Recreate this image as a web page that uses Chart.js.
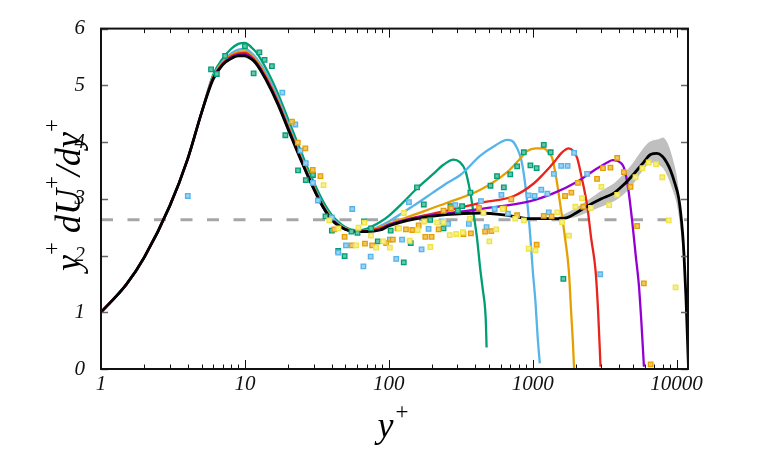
<!DOCTYPE html>
<html><head><meta charset="utf-8">
<script src="https://cdn.jsdelivr.net/npm/chart.js@4.4.1/dist/chart.umd.min.js"></script>
<style>html,body{margin:0;padding:0;background:#fff}#wrap{width:763px;height:456px}</style>
</head><body><div id="wrap"><canvas id="c" width="763" height="456"></canvas></div>
<script>
// ---------- data ----------
const xInner = [1, 1.5, 2, 3, 4, 5, 6, 7, 8, 9, 10, 11, 12, 14, 17, 20, 25, 30, 35, 40, 50, 60, 70];
const greenInY  = [1.00,1.49,1.97,2.87,3.70,4.52,5.18,5.47,5.64,5.73,5.75,5.68,5.58,5.30,4.85,4.40,3.78,3.30,2.95,2.72,2.50,2.44,2.47];
const blueInY   = [1.00,1.49,1.97,2.87,3.70,4.52,5.15,5.42,5.56,5.63,5.64,5.58,5.48,5.22,4.77,4.32,3.70,3.23,2.89,2.68,2.48,2.43,2.44];
const orangeInY = [1.00,1.49,1.97,2.87,3.70,4.52,5.14,5.40,5.53,5.59,5.60,5.54,5.44,5.17,4.72,4.28,3.67,3.21,2.87,2.66,2.47,2.43,2.43];
const redInY    = [1.00,1.49,1.97,2.87,3.70,4.52,5.13,5.38,5.51,5.56,5.57,5.51,5.41,5.14,4.70,4.26,3.65,3.20,2.86,2.65,2.46,2.42,2.43];
const purpleInY = [1.00,1.49,1.97,2.87,3.70,4.52,5.12,5.37,5.49,5.54,5.55,5.49,5.40,5.12,4.68,4.24,3.64,3.19,2.85,2.64,2.46,2.42,2.42];
const blackInY  = [1.00,1.49,1.97,2.87,3.70,4.52,5.10,5.36,5.47,5.52,5.52,5.47,5.38,5.10,4.66,4.22,3.63,3.18,2.85,2.63,2.46,2.42,2.42];

const greenOutX  = [87, 100, 125, 158, 200, 240, 282, 310, 340, 369, 390, 410, 433, 450, 467, 473, 478];
const greenOutY  = [2.59, 2.70, 2.93, 3.19, 3.42, 3.60, 3.69, 3.65, 3.50, 3.10, 2.70, 2.31, 1.74, 1.40, 1.06, 0.80, 0.38];
const blueOutX   = [87, 100, 149, 200, 254, 314, 433, 550, 664, 720, 780, 830, 867, 920, 964, 1000, 1046, 1080, 1120];
const blueOutY   = [2.52, 2.60, 2.88, 3.10, 3.28, 3.42, 3.76, 3.94, 4.04, 4.02, 3.89, 3.70, 3.44, 2.90, 2.31, 1.75, 1.17, 0.60, 0.10];
const orangeOutX = [87, 100, 150, 254, 433, 664, 800, 914, 1050, 1194, 1300, 1365, 1450, 1560, 1680, 1782, 1850, 1900, 1940];
const orangeOutY = [2.50, 2.56, 2.72, 2.93, 3.16, 3.47, 3.68, 3.84, 3.89, 3.89, 3.80, 3.72, 3.40, 2.87, 2.30, 1.74, 1.00, 0.50, 0.00];
const redOutX    = [87, 100, 150, 254, 433, 740, 1016, 1200, 1402, 1600, 1782, 1900, 2036, 2200, 2393, 2550, 2733, 2850, 2960];
const redOutY    = [2.48, 2.54, 2.67, 2.79, 2.93, 3.05, 3.27, 3.45, 3.64, 3.82, 3.89, 3.85, 3.72, 3.35, 2.87, 2.30, 1.74, 1.00, 0.04];
const purpleOutX = [87, 100, 149, 250, 433, 964, 1402, 2036, 2661, 3000, 3296, 3600, 3866, 4100, 4303, 4600, 4920, 5200, 5475, 5700, 5929];
const purpleOutY = [2.46, 2.54, 2.66, 2.74, 2.82, 2.96, 3.10, 3.30, 3.50, 3.58, 3.64, 3.68, 3.67, 3.63, 3.55, 3.20, 2.59, 2.00, 1.46, 0.80, 0.04];
const blackOutX  = [87, 100, 150, 250, 433, 700, 964, 1400, 1738, 2000, 2393, 3000, 3664, 4300, 5047, 5800, 6590, 7300, 7950, 8500, 9080, 9700, 10380, 11000, 11250, 11600, 11870, 12100];
const blackOutY  = [2.45, 2.52, 2.64, 2.72, 2.75, 2.70, 2.65, 2.65, 2.67, 2.75, 2.87, 3.00, 3.10, 3.25, 3.44, 3.62, 3.78, 3.80, 3.75, 3.65, 3.50, 3.28, 2.99, 2.40, 2.02, 1.30, 0.61, 0.00];

const bandX     = [1500, 2000, 2500, 3000, 3700, 4300, 5000, 5600, 6300, 6900, 7500, 8100, 8700, 9300, 10000, 10700, 11300, 11800];
const bandUpper = [2.68, 2.84, 3.00, 3.14, 3.28, 3.44, 3.64, 3.82, 3.98, 4.03, 4.05, 4.08, 3.97, 3.75, 3.42, 2.82, 2.12, 1.00];
const bandLower = [2.63, 2.68, 2.78, 2.86, 2.96, 3.08, 3.26, 3.44, 3.60, 3.63, 3.60, 3.53, 3.38, 3.18, 2.92, 2.42, 1.68, 0.50];

const refLevel = 2.63;
const xRange = [1, 12000];
const yRange = [0, 6];
const xTickLabels = [1, 10, 100, 1000, 10000];

const greenPtsX = [5.82,6.38,7.29,10.0,11.5,12.6,13.7,15.4,19.1,23.4,26.5,29.7,36.3,40.2,44.5,49.3,55,60.6,67.2,75.3,83.8,103,127,142,157,175,194,240,268,302,323,369,509,565,630,698,780,867,964,1065,1194,1333,1633];
const greenPtsY = [5.28,5.20,5.52,5.69,5.21,5.58,5.45,5.34,4.12,3.50,3.33,3.42,2.69,2.44,2.08,1.99,2.42,2.40,2.60,2.48,2.25,2.44,1.88,2.22,3.20,2.90,2.63,2.48,2.87,2.79,2.87,3.11,3.23,3.40,3.20,3.43,3.57,3.82,3.59,3.54,3.95,3.82,1.59];
const bluePtsX = [4.01,18.2,22.4,24.3,26.5,29.7,32.2,40.2,44.5,50.4,55.7,66.6,74.8,101.7,112.6,123.6,138,169,189,233,258,290,360,437,478,544,606,673,937,1031,1147,1265,1293,1402,1578,1747,1940,2390,2945];
const bluePtsY = [3.05,4.87,4.31,3.85,3.63,3.28,2.97,2.67,2.05,2.18,2.82,1.81,1.98,2.28,1.94,2.28,2.94,2.11,2.47,2.60,2.56,2.89,2.56,2.96,2.50,2.82,3.07,2.74,3.06,3.05,3.16,3.09,2.76,3.44,3.58,3.58,3.81,3.44,1.67];
const orangePtsX = [21.2,23.3,26.3,29.6,33.5,41.8,49.3,55.3,68.3,76.6,95.9,106.6,115,131.5,145.6,161.3,179.4,198.3,222,240,271,330,372,424,467,515,633,710,780,1065,1194,1353,1678,1856,2060,2248,2800,3080,3470,3866,4300,4780,5320,5920,6600];
const orangePtsY = [4.36,3.99,3.89,3.51,3.40,2.46,2.33,2.18,2.21,2.18,2.22,2.28,2.48,2.46,2.45,2.53,2.33,2.33,2.46,2.79,2.83,2.38,2.39,2.84,2.42,2.43,2.83,2.99,2.71,2.19,2.70,2.69,3.05,3.11,3.28,2.86,3.35,3.54,3.55,3.72,3.47,3.21,2.52,1.51,0.08];
const yellowPtsX = [35.2,38.6,44.7,59.2,61.6,67.6,75.3,81.6,91.4,101.7,118,127,139.5,158.7,176.6,194.3,217,240,265,294,327,365,455,500,557,619,756,868,937,1046,1483,1600,1785,1980,2200,2540,3000,3400,3866,5180,5780,6400,7190,7950,8820,9840];
const yellowPtsY = [3.24,2.62,2.48,2.18,2.49,2.58,2.35,2.14,2.25,2.14,2.48,2.75,2.26,2.45,2.60,2.15,2.58,2.59,2.36,2.38,2.41,2.65,2.75,2.25,2.46,2.82,2.65,2.62,2.12,2.09,2.76,2.59,2.35,2.86,3.01,2.84,3.21,2.89,3.07,3.38,3.54,3.64,3.61,3.38,2.62,1.44];

// ---------- helpers ----------
const pts = (xs, ys) => xs.map((x, i) => ({x, y: ys[i]}));
const curve = (inY, outX, outY) => pts(xInner.concat(outX), inY.concat(outY));
const COLORS = {green:'#009E73', blue:'#56B4E9', orange:'#E69F00', red:'#E8241C', purple:'#9400D3', black:'#000000', yellow:'#F0E442'};
const lineDs = (data, color, width, order) => ({
  type:'line', data, borderColor:color, borderWidth:width, pointRadius:0, fill:false,
  cubicInterpolationMode:'monotone', order
});
const tint = (hex, a) => {
  const n = parseInt(hex.slice(1), 16), r = n >> 16, g = (n >> 8) & 255, b = n & 255;
  const m = c => Math.round(c + (255 - c) * a);
  return `rgb(${m(r)},${m(g)},${m(b)})`;
};
const scatterDs = (data, color, order) => ({
  type:'line', data, showLine:false, pointStyle:'rect', pointRadius:3.2,
  pointBorderWidth:1.3, pointBorderColor:color, pointBackgroundColor:tint(color, 0.4),
  borderColor:color, backgroundColor:color, fill:false, order
});

const SERIF = '"Liberation Serif", "Times New Roman", serif';

const frame = {
  id:'frame',
  afterDatasetsDraw(chart){
    const {ctx, chartArea:a, scales:{x, y}} = chart;
    ctx.save();
    ctx.strokeStyle = '#111'; ctx.lineWidth = 1;
    for (let d = 0; d <= 4; d++) for (let m = 1; m <= 9; m++) {
      const v = m * Math.pow(10, d);
      if (v > x.max) break;
      const px = Math.round(x.getPixelForValue(v)) + 0.5;
      const len = m === 1 ? 9 : 4.5;
      ctx.beginPath();
      ctx.moveTo(px, a.bottom); ctx.lineTo(px, a.bottom - len);
      ctx.moveTo(px, a.top); ctx.lineTo(px, a.top + len);
      ctx.stroke();
    }
    ctx.strokeStyle = '#666'; ctx.lineWidth = 1.5;
    for (let v = yRange[0]; v <= yRange[1]; v++) {
      const py = Math.round(y.getPixelForValue(v)) + 0.5;
      ctx.beginPath();
      ctx.moveTo(a.left, py); ctx.lineTo(a.left + 7, py);
      ctx.moveTo(a.right, py); ctx.lineTo(a.right - 7, py);
      ctx.stroke();
    }
    ctx.strokeStyle = '#111'; ctx.lineWidth = 2;
    ctx.strokeRect(a.left, a.top, a.right - a.left, a.bottom - a.top);
    ctx.restore();
  },
  afterDraw(chart){
    const ctx = chart.ctx;
    const main = 'italic 36px ' + SERIF, sup = '23px ' + SERIF;
    const parts = (list) => list.map(([t, f]) => { ctx.font = f; return [t, f, ctx.measureText(t).width]; });
    ctx.save();
    ctx.fillStyle = '#000'; ctx.textBaseline = 'alphabetic';
    // x title: y+
    let p = parts([['y', main], ['+', sup]]);
    let tot = p.reduce((s, q) => s + q[2], 0) + 2;
    let cx = 393 - tot / 2;
    ctx.font = p[0][1]; ctx.fillText('y', cx, 437); cx += p[0][2] + 2;
    ctx.font = p[1][1]; ctx.fillText('+', cx, 419);
    // y title: y+ dU+/dy+
    ctx.translate(80, 195);
    ctx.rotate(-Math.PI / 2);
    p = parts([['y', main], ['+', sup], [' dU', main], ['+', sup], ['/dy', main], ['+', sup]]);
    tot = p.reduce((s, q) => s + q[2], 0);
    let tx = -tot / 2;
    for (const [t, f, w] of p) {
      ctx.font = f;
      ctx.fillText(t, tx, f === sup ? -21 : 0);
      tx += w;
    }
    ctx.restore();
  }
};

const isDecade = v => Math.abs(Math.log10(v) - Math.round(Math.log10(v))) < 1e-9;

new Chart(document.getElementById('c'), {
  type:'line',
  data:{ datasets:[
    {type:'line', data:pts(bandX, bandUpper), borderWidth:0, pointRadius:0, backgroundColor:'#bfbfbf', fill:'+1', tension:0.3, order:30},
    {type:'line', data:pts(bandX, bandLower), borderWidth:0, pointRadius:0, fill:false, tension:0.3, order:29},
    {type:'line', data:pts(xRange, [refLevel, refLevel]), borderColor:'#a6a6a6', borderWidth:3, borderDash:[12, 14.5], pointRadius:0, fill:false, order:28},
    lineDs(curve(greenInY, greenOutX, greenOutY), COLORS.green, 2.3, 15),
    lineDs(curve(blueInY, blueOutX, blueOutY), COLORS.blue, 2.3, 14),
    lineDs(curve(orangeInY, orangeOutX, orangeOutY), COLORS.orange, 2.3, 13),
    lineDs(curve(redInY, redOutX, redOutY), COLORS.red, 2.3, 12),
    lineDs(curve(purpleInY, purpleOutX, purpleOutY), COLORS.purple, 2.3, 11),
    lineDs(curve(blackInY, blackOutX, blackOutY), COLORS.black, 2.8, 10),
    scatterDs(pts(greenPtsX, greenPtsY), COLORS.green, 4),
    scatterDs(pts(bluePtsX, bluePtsY), COLORS.blue, 3),
    scatterDs(pts(orangePtsX, orangePtsY), COLORS.orange, 2),
    scatterDs(pts(yellowPtsX, yellowPtsY), COLORS.yellow, 1)
  ]},
  options:{
    responsive:false, animation:false, devicePixelRatio:1,
    layout:{padding:{top:16, right:75, left:0, bottom:0}},
    plugins:{legend:{display:false}, tooltip:{enabled:false}},
    events:[],
    scales:{
      x:{type:'logarithmic', min:xRange[0], max:xRange[1],
        grid:{display:false, drawTicks:false}, border:{display:false},
        ticks:{autoSkip:false, maxRotation:0, padding:3, color:'#111',
          font:{family:SERIF, style:'italic', size:21},
          callback:(v) => (isDecade(v) && xTickLabels.includes(Math.round(v))) ? String(Math.round(v)) : ''},
        afterFit:(s) => { s.height = 87; }
      },
      y:{type:'linear', min:yRange[0], max:yRange[1],
        grid:{display:false, drawTicks:false}, border:{display:false},
        ticks:{stepSize:1, padding:16, color:'#111', font:{family:SERIF, style:'italic', size:21}},
        afterFit:(s) => { s.width = 101; }
      }
    }
  },
  plugins:[frame]
});
</script></body></html>
